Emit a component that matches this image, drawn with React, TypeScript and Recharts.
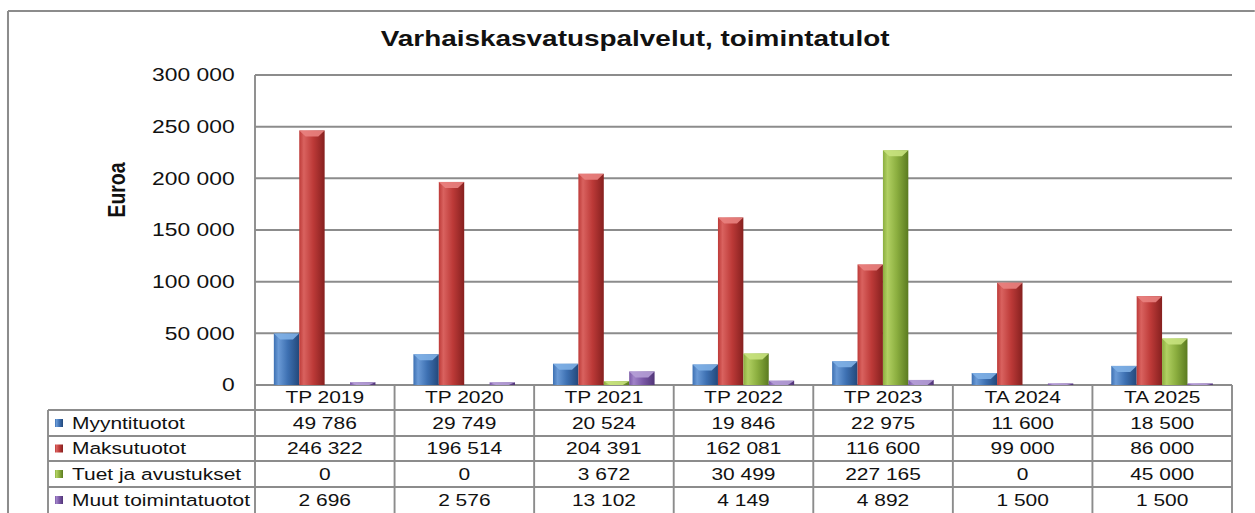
import React from "react";
import { Bar, BarChart, CartesianGrid, XAxis, YAxis } from "recharts";

const categories = ["TP 2019", "TP 2020", "TP 2021", "TP 2022", "TP 2023", "TA 2024", "TA 2025"];
const myyntituotot = [49786, 29749, 20524, 19846, 22975, 11600, 18500];
const maksutuotot = [246322, 196514, 204391, 162081, 116600, 99000, 86000];
const tuetJaAvustukset = [0, 0, 3672, 30499, 227165, 0, 45000];
const muutToimintatuotot = [2696, 2576, 13102, 4149, 4892, 1500, 1500];
const yTicks = [0, 50000, 100000, 150000, 200000, 250000, 300000];

const series = [
  { key: "myynti", name: "Myyntituotot", values: myyntituotot, light: "#6a9ad6", mid: "#3d70b2", dark: "#23487a", top: "#7fb0e6" },
  { key: "maksu", name: "Maksutuotot", values: maksutuotot, light: "#d9625f", mid: "#bd3a38", dark: "#86201f", top: "#e98280" },
  { key: "tuet", name: "Tuet ja avustukset", values: tuetJaAvustukset, light: "#b1d062", mid: "#8bae3f", dark: "#5b7b20", top: "#c8e27e" },
  { key: "muut", name: "Muut toimintatuotot", values: muutToimintatuotot, light: "#a083c8", mid: "#7a58a6", dark: "#513577", top: "#b59ed6" },
];

const data = categories.map((category, i) => {
  const row: Record<string, string | number> = { category };
  series.forEach((s) => (row[s.key] = s.values[i]));
  return row;
});

// the reference is stretched sideways, so draw narrow and scale the whole thing
const SX = 1.27;
const W = 1255 / SX;
const PLOT_LEFT = 255 / SX;
const PLOT_RIGHT = 1232 / SX;
const PLOT_TOP = 75;
const PLOT_BOTTOM = 385;
const ROWS = [410, 436, 461, 487, 513];
const LEG_LEFT = 48 / SX;
const FONT = '"Liberation Sans", Arial, sans-serif';
const LINE = "#8c8c8c";

function fmt(v: number) {
  return String(v).replace(/\B(?=(\d{3})+(?!\d))/g, " ");
}

function Gradients({ prefix }: { prefix: string }) {
  return (
    <defs>
      {series.map((s) => (
        <linearGradient key={s.key} id={`${prefix}-${s.key}`} x1="0" y1="0" x2="1" y2="0">
          <stop offset="0%" stopColor={s.mid} />
          <stop offset="18%" stopColor={s.light} />
          <stop offset="55%" stopColor={s.mid} />
          <stop offset="100%" stopColor={s.dark} />
        </linearGradient>
      ))}
    </defs>
  );
}

function BevelBar(props: any) {
  const { x, y, width, height, gradId, top } = props;
  if (!height || height <= 0) return null;
  const b = Math.min(6, height);
  const inset = Math.min(width / 3, 5);
  return (
    <g>
      <rect x={x} y={y} width={width} height={height} fill={`url(#${gradId})`} />
      <polygon
        points={`${x},${y} ${x + width},${y} ${x + width - inset},${y + b} ${x + inset},${y + b}`}
        fill={top}
        opacity={0.9}
      />
    </g>
  );
}

function Table() {
  const colW = (PLOT_RIGHT - PLOT_LEFT) / categories.length;
  const headerY = (PLOT_BOTTOM + ROWS[0]) / 2;
  return (
    <g fontFamily={FONT} fontSize={16.5} fill="#111">
      {ROWS.slice(0, 4).map((y) => (
        <line key={y} x1={LEG_LEFT} x2={PLOT_RIGHT} y1={y} y2={y} stroke={LINE} strokeWidth={2} />
      ))}
      <line x1={LEG_LEFT} x2={LEG_LEFT} y1={ROWS[0]} y2={520} stroke={LINE} strokeWidth={1.5} />
      {categories.map((_, k) => (
        <line key={k} x1={PLOT_LEFT + k * colW} x2={PLOT_LEFT + k * colW} y1={PLOT_BOTTOM} y2={520} stroke={LINE} strokeWidth={1.5} />
      ))}
      <line x1={PLOT_RIGHT} x2={PLOT_RIGHT} y1={PLOT_BOTTOM} y2={520} stroke={LINE} strokeWidth={1.5} />
      {categories.map((c, k) => (
        <text key={c} x={PLOT_LEFT + (k + 0.5) * colW} y={headerY} dy="0.36em" textAnchor="middle">
          {c}
        </text>
      ))}
      {series.map((s, r) => {
        const cy = (ROWS[r] + ROWS[r + 1]) / 2;
        return (
          <g key={s.key}>
            <rect x={55 / SX} y={cy - 4} width={8 / SX} height={8} fill={`url(#leg-${s.key})`} />
            <text x={72 / SX} y={cy} dy="0.36em">
              {s.name}
            </text>
            {s.values.map((v, k) => (
              <text key={k} x={PLOT_LEFT + (k + 0.5) * colW} y={cy} dy="0.36em" textAnchor="middle">
                {fmt(v)}
              </text>
            ))}
          </g>
        );
      })}
    </g>
  );
}

export default function App() {
  return (
    <div style={{ position: "fixed", left: 0, top: 0, width: 1255, height: 513, overflow: "hidden", background: "#fff" }}>
      <div style={{ position: "absolute", left: 0, top: 0, width: W, height: 513, transform: `scaleX(${SX})`, transformOrigin: "0 0" }}>
        <BarChart
          width={W}
          height={PLOT_BOTTOM + 20}
          data={data}
          margin={{ top: PLOT_TOP, right: W - PLOT_RIGHT, bottom: 20, left: 0 }}
          barCategoryGap="13.5%"
          barGap={0}
          style={{ position: "absolute", left: 0, top: 0 }}
        >
          <Gradients prefix="bar" />
          <CartesianGrid vertical={false} stroke={LINE} strokeWidth={2} />
          <XAxis dataKey="category" hide />
          <YAxis
            width={PLOT_LEFT}
            domain={[0, 300000]}
            ticks={yTicks}
            tickFormatter={fmt}
            interval={0}
            axisLine={{ stroke: LINE, strokeWidth: 1.5 }}
            tickLine={false}
            tickSize={0}
            tickMargin={16}
            tick={{ fontFamily: FONT, fontSize: 18, fill: "#111" }}
          />
          {series.map((s) => (
            <Bar
              key={s.key}
              dataKey={s.key}
              name={s.name}
              isAnimationActive={false}
              shape={(p: any) => <BevelBar {...p} gradId={`bar-${s.key}`} top={s.top} />}
            />
          ))}
        </BarChart>
        <svg width={W} height={513} style={{ position: "absolute", left: 0, top: 0, pointerEvents: "none" }}>
          <Gradients prefix="leg" />
          <line x1={8 / SX} x2={W + 10} y1={11} y2={11} stroke={LINE} strokeWidth={2} />
          <line x1={8 / SX} x2={8 / SX} y1={11} y2={520} stroke={LINE} strokeWidth={1.6} />
          <text x={W / 2 + 6} y={46} textAnchor="middle" fontFamily={FONT} fontSize={22} fontWeight="bold" fill="#111">
            Varhaiskasvatuspalvelut, toimintatulot
          </text>
          <text
            transform={`translate(${116 / SX},190) rotate(-90)`}
            textAnchor="middle"
            dy="0.36em"
            fontFamily={FONT}
            fontSize={19.5}
            fontWeight="bold"
            fill="#111"
          >
            Euroa
          </text>
          <Table />
        </svg>
      </div>
    </div>
  );
}
